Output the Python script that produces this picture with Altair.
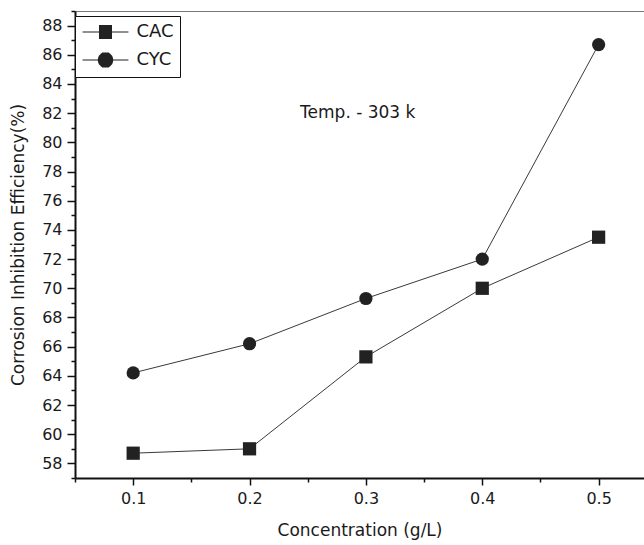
import math
import altair as alt
import pandas as pd

# ---- data ----
conc = [0.1, 0.2, 0.3, 0.4, 0.5]
cac = [58.7, 59.0, 65.3, 70.0, 73.5]
cyc = [64.2, 66.2, 69.3, 72.0, 86.7]
series = ["CAC", "CYC"]
y_ticks = list(range(57, 90))
x_ticks = [0.05, 0.1, 0.15, 0.2, 0.25, 0.3, 0.35, 0.4, 0.45, 0.5]
note_text = ["Temp. - 303 k"]
note_x = [0.293]
note_y = [82.0]

df = pd.DataFrame({
    "conc": conc + conc,
    "eff": cac + cyc,
    "series": [series[0]] * len(conc) + [series[1]] * len(conc),
})
note_df = pd.DataFrame({"x": note_x, "y": note_y, "t": note_text})

FONT = "DejaVu Sans"
INK = "#1a1a1a"

xscale = alt.Scale(domain=[0.05, 0.539], nice=False, zero=False)
yscale = alt.Scale(domain=[57, 89], nice=False, zero=False)

x_major = "round(datum.value*100) % 10 == 0"
x_axis = alt.Axis(
    values=x_ticks,
    labelExpr=f"{x_major} ? format(datum.value, '.1f') : ''",
    tickSize={"condition": {"test": x_major, "value": 7}, "value": 4},
    title="Concentration (g/L)",
    labelPadding=5,
    titlePadding=16,
    grid=False,
)
y_major = "datum.value % 2 == 0"
y_axis = alt.Axis(
    values=y_ticks,
    labelExpr=f"{y_major} ? datum.label : ''",
    tickSize={"condition": {"test": y_major, "value": 8}, "value": 4},
    title="Corrosion Inhibition Efficiency(%)",
    labelPadding=5,
    titlePadding=14,
    grid=False,
)

base = alt.Chart(df)

lines = base.mark_line(color="#3a3a3a", strokeWidth=1.0).encode(
    x=alt.X("conc:Q", scale=xscale, axis=x_axis),
    y=alt.Y("eff:Q", scale=yscale, axis=y_axis),
    detail="series:N",
)

points = base.mark_point(filled=True, color="#222222", opacity=1, size=175).encode(
    x=alt.X("conc:Q", scale=xscale, axis=None),
    y=alt.Y("eff:Q", scale=yscale, axis=None),
    shape=alt.Shape("series:N", scale=alt.Scale(domain=series, range=["square", "circle"]), legend=None),
)


# legend glyphs: a line through a solid marker, drawn with strokes only
def glyph(kind, half=0.72, reach=2.55, step=0.09):
    parts = [f"M{-reach},0H{reach}"]
    n = int(round(2 * half / step))
    for i in range(n + 1):
        y = -half + i * (2 * half / n)
        w = half if kind == "square" else math.sqrt(max(half * half - y * y, 0.0))
        parts.append(f"M{-w:.3f},{y:.3f}H{w:.3f}")
    return "".join(parts)


legend_paths = [glyph("square", 0.72), glyph("circle", 0.85)]

legend_layer = base.mark_point(
    filled=False, color="#222222", strokeWidth=1.2, opacity=0, size=324
).encode(
    x=alt.X("conc:Q", scale=xscale, axis=None),
    y=alt.Y("eff:Q", scale=yscale, axis=None),
    shape=alt.Shape(
        "series:N",
        scale=alt.Scale(domain=series, range=legend_paths),
        legend=alt.Legend(
            title=None,
            orient="none",
            legendX=0,
            legendY=5,
            padding=6,
            rowPadding=8,
            strokeColor="#111111",
            fillColor="white",
            labelFont=FONT,
            labelFontSize=18,
            labelColor=INK,
            labelOffset=21,
            symbolOffset=14.5,
            symbolSize=324,
            symbolStrokeWidth=1.2,
            symbolStrokeColor="#222222",
            symbolOpacity=1,
        ),
    ),
)

note = alt.Chart(note_df).mark_text(font=FONT, fontSize=17, color=INK).encode(
    x=alt.X("x:Q", scale=xscale,
            axis=alt.Axis(orient="top", labels=False, ticks=False, title=None,
                          domainColor="#777777", domainWidth=1, grid=False)),
    y=alt.Y("y:Q", scale=yscale, axis=None),
    text="t:N",
)

chart = (
    alt.layer(lines, points, legend_layer, note)
    .resolve_scale(shape="independent")
    .resolve_axis(x="independent", y="independent")
    .properties(
        width=569,
        height=467,
        autosize=alt.AutoSizeParams(type="none"),
        padding={"left": 75, "top": 11, "right": 0, "bottom": 67},
        background="white",
    )
    .configure_view(stroke=None)
    .configure_axis(
        labelFont=FONT,
        labelFontSize=16,
        labelColor=INK,
        titleFont=FONT,
        titleFontSize=17,
        titleFontWeight="normal",
        titleColor=INK,
        domainColor="#111111",
        domainWidth=2,
        tickColor="#111111",
        tickWidth=1.5,
    )
)

chart.save("out.html", embed_options={"renderer": "svg", "actions": False})
